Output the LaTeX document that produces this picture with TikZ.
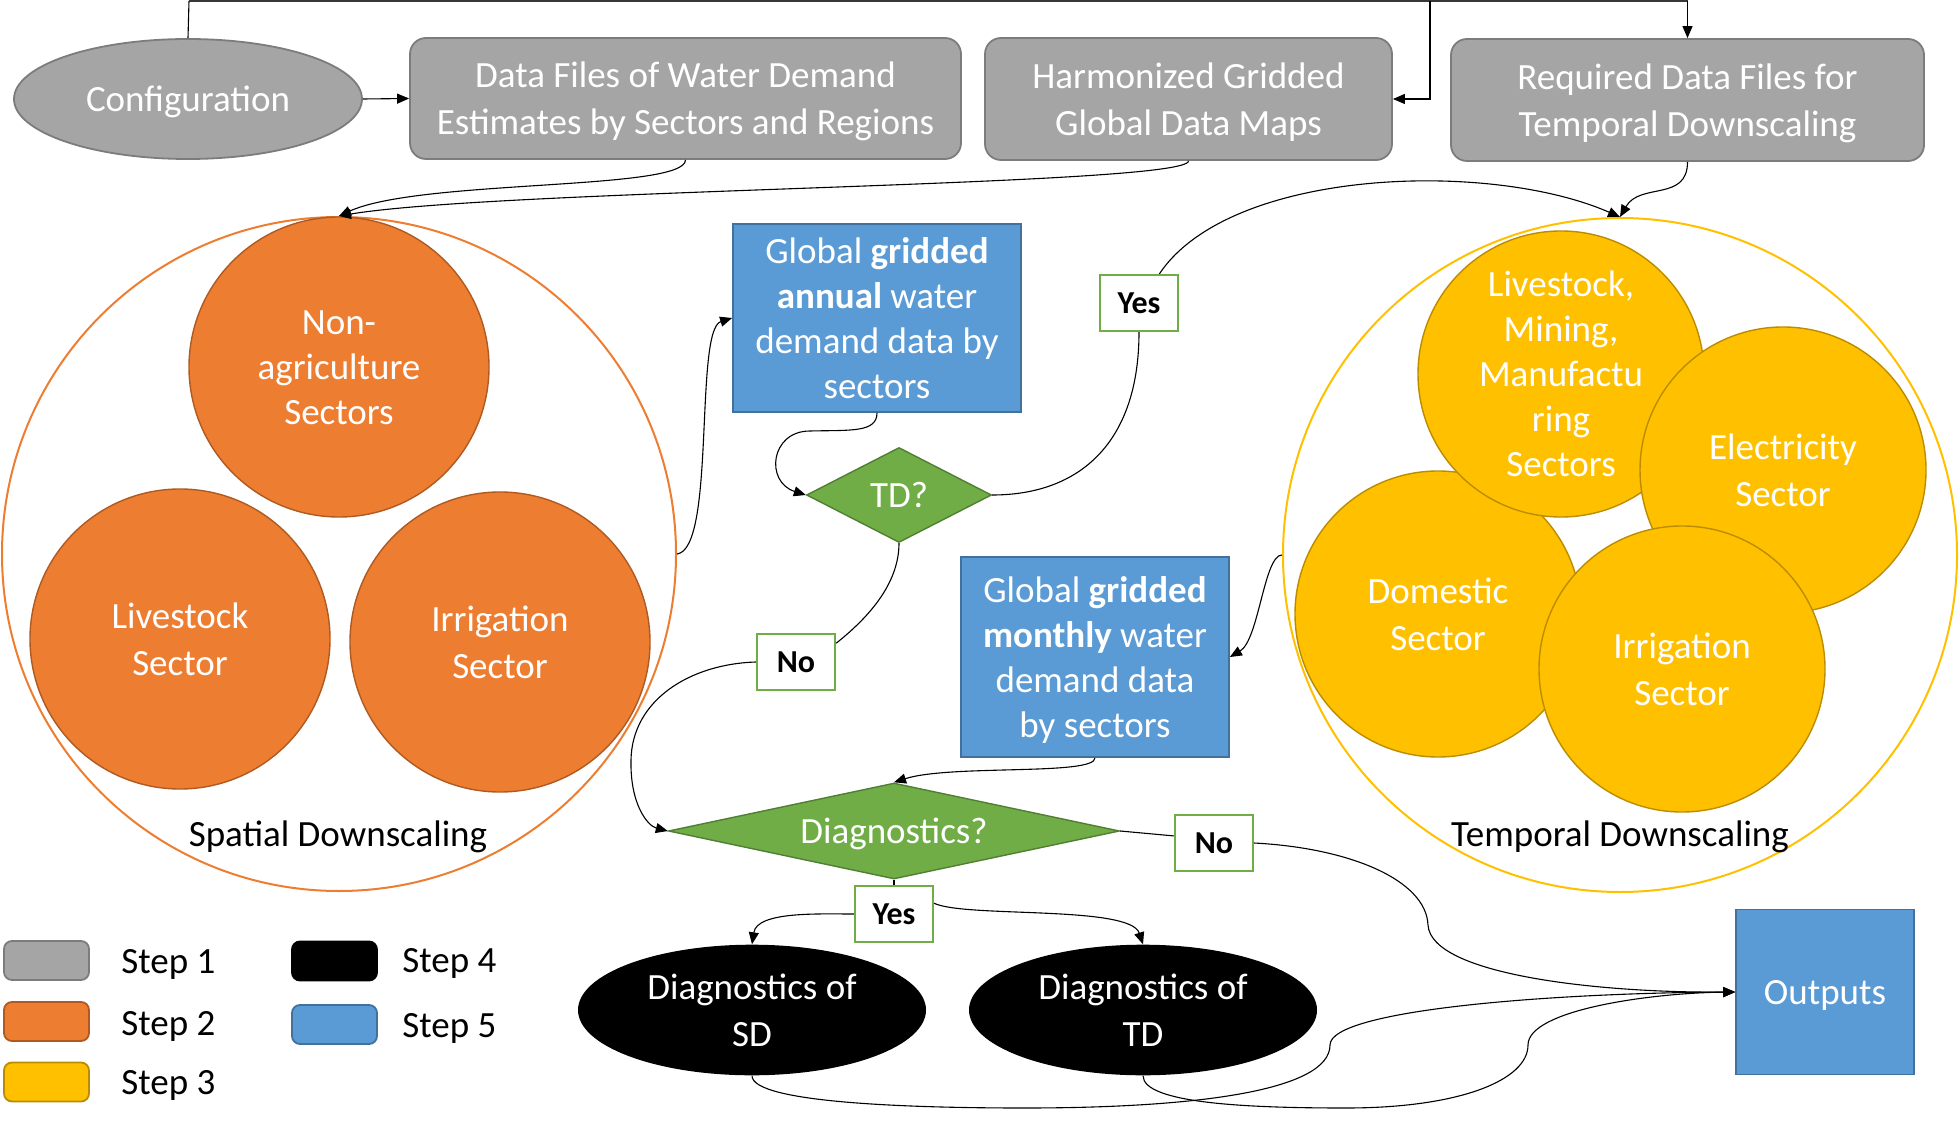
\documentclass[tikz,border=0pt]{standalone}
\usepackage{fontspec}
\setmainfont{Carlito}
\usetikzlibrary{shapes.geometric,arrows.meta}
\definecolor{gfill}{HTML}{A5A5A5}
\definecolor{gline}{HTML}{7C7C7C}
\definecolor{ofill}{HTML}{ED7D31}
\definecolor{oline}{HTML}{AE5A21}
\definecolor{yfill}{HTML}{FFC000}
\definecolor{yline}{HTML}{BC8C00}
\definecolor{bfill}{HTML}{5B9BD5}
\definecolor{bline}{HTML}{41719C}
\definecolor{grfill}{HTML}{70AD47}
\definecolor{grline}{HTML}{507E32}
\newcommand\cs{\rule[-0.269em]{0pt}{1.221em}}
\begin{document}
\begin{tikzpicture}[x=0.5pt,y=-0.5pt,
  every node/.style={inner sep=0pt, align=center, font=\fontsize{18.5}{22.5}\selectfont},
  gcol/.style={fill=gfill, draw=gline, line width=0.9pt, text=white},
  gbox/.style={gcol, rectangle, rounded corners=8pt},
  ocirc/.style={circle, fill=ofill, draw=oline, line width=0.7pt, minimum size=150pt, text=white},
  ycirc/.style={circle, fill=yfill, draw=yline, line width=0.7pt, minimum size=143pt, text=white},
  bbox/.style={rectangle, fill=bfill, draw=bline, line width=0.9pt, text=white},
  dia/.style={diamond, fill=grfill, draw=grline, line width=0.7pt, text=white},
  lab/.style={rectangle, fill=white, draw=grfill, line width=1.1pt, minimum width=39pt, minimum height=28pt, font=\fontsize{16}{19}\selectfont\bfseries},
  blk/.style={ellipse, fill=black, text=white, minimum width=174pt, minimum height=62pt},
  leg/.style={rectangle, rounded corners=4pt, line width=0.9pt, minimum width=42.5pt, minimum height=19.5pt},
  ring/.style={circle, line width=1pt, minimum size=337pt},
  conn/.style={line width=0.55pt, draw=black},
  arr/.style={conn, -{Triangle[length=6pt,width=5pt]}},
  topline/.style={line width=1.4pt, draw=black!78}]
\useasboundingbox (0,0) rectangle (1959,1128);

% outer groups
\node[ring, draw=ofill] (sdout) at (339,554) {};
\node[ring, draw=yfill] (tdout) at (1620,555) {};

% spatial downscaling
\node[ocirc] (nonag) at (339,367) {\cs Non-\\agriculture\\Sectors\cs};
\node[ocirc] (lvs) at (180,639) {\cs Livestock\\Sector\cs};
\node[ocirc] (irrs) at (500,642) {\cs Irrigation\\Sector\cs};
\node (sdlabel) at (338,834) {\cs Spatial Downscaling\cs};

% temporal downscaling
\node[ycirc] (dom) at (1438,614) {\cs Domestic\\Sector\cs};
\node[ycirc] (lmm) at (1561,374) {\cs Livestock,\\Mining,\\Manufactu\\ring\\Sectors\cs};
\node[ycirc] (elec) at (1783,470) {\cs Electricity\\Sector\cs};
\node[ycirc] (irrt) at (1682,669) {\cs Irrigation\\Sector\cs};
\node (tdlabel) at (1620,834) {\cs Temporal Downscaling\cs};

% top row
\node[gcol, ellipse, minimum width=174pt, minimum height=60pt] (conf) at (188,99) {\cs Configuration\cs};
\node[gbox, minimum width=275.5pt, minimum height=60.5pt] (box1) at (685.5,98.5) {\cs Data Files of Water Demand\\Estimates by Sectors and Regions\cs};
\node[gbox, minimum width=203.5pt, minimum height=61pt] (box2) at (1188.5,99) {\cs Harmonized Gridded\\Global Data Maps\cs};
\node[gbox, minimum width=236.5pt, minimum height=61pt] (box3) at (1687.5,100) {\cs Required Data Files for\\Temporal Downscaling\cs};

% middle
\node[bbox, minimum width=144pt, minimum height=94pt] (blueA) at (877,318) {\cs Global \textbf{gridded}\\\textbf{annual} water\\demand data by\\sectors\cs};
\node[bbox, minimum width=134pt, minimum height=100pt] (blueM) at (1095,657) {\cs Global \textbf{gridded}\\\textbf{monthly} water\\demand data\\by sectors\cs};
\node[bbox, minimum width=89pt, minimum height=82.5pt] (outp) at (1825,992) {\cs Outputs\cs};
\node[dia, minimum width=92.5pt, minimum height=47.5pt, shape aspect=1.95] (tdq) at (899,495) {\cs TD?\cs};
\node[dia, minimum width=225.5pt, minimum height=48pt, shape aspect=4.7] (diagq) at (894,831) {\cs Diagnostics?\cs};

\node[lab] (yes1) at (1139,303) {\cs Yes\cs};
\node[lab] (no1) at (796,662) {\cs No\cs};
\node[lab] (no2) at (1214,843) {\cs No\cs};
\node[lab] (yes2) at (894,914) {\cs Yes\cs};

\node[blk] (dsd) at (752,1010) {\cs Diagnostics of\\SD\cs};
\node[blk] (dtd) at (1143,1010) {\cs Diagnostics of\\TD\cs};

% legend
\node[leg, fill=gfill, draw=gline] (l1) at (46.5,960.5) {};
\node[leg, fill=ofill, draw=oline] (l2) at (46.5,1021.5) {};
\node[leg, fill=yfill, draw=yline] (l3) at (46.5,1082) {};
\node[leg, fill=black, draw=black] (l4) at (334.5,961) {};
\node[leg, fill=bfill, draw=bline] (l5) at (334.5,1024.5) {};
\node[anchor=west] (t1) at (121,961) {\cs Step 1\cs};
\node[anchor=west] (t2) at (121,1023) {\cs Step 2\cs};
\node[anchor=west] (t3) at (121,1082) {\cs Step 3\cs};
\node[anchor=west] (t4) at (402,960) {\cs Step 4\cs};
\node[anchor=west] (t5) at (402,1025) {\cs Step 5\cs};

% connectors
\coordinate (topL) at (189,1);
\coordinate (topM) at (1430,1);
\coordinate (topR) at (box3.north |- topL);
\draw[conn] (conf.north) -- (topL);
\draw[topline] (topL) -- (topR);
\draw[arr] (topR) -- (box3.north);
\draw[arr] (topM) |- (box2.east);
\draw[arr] (conf.east) -- (box1.west);

\draw[arr] (box1.south) .. controls +(0,31) and +(81,-37) .. (sdout.north);
\draw[arr] (box2.south) .. controls +(0,25) and +(161,-27) .. (sdout.north);
\draw[arr] (box3.south) .. controls +(0,40) and +(20,-35) .. (tdout.north);
\draw[arr] (yes1.55) .. controls (1230,168) and (1490,160) .. (tdout.north);

\draw[arr] (sdout.east) .. controls +(39,-5) and +(-38,12) .. (blueA.west);
\draw[arr] (blueA.south) .. controls +(0,20) and (850,430) .. (810,431) .. controls (770,431) and (765,482) .. (tdq.west);
\draw[conn] (tdq.east) .. controls +(88,0) and +(0,110) .. (yes1.south);
\draw[conn] (tdq.south) .. controls +(0,45) and +(25,-20) .. (no1.25);
\draw[arr] (no1.west) .. controls (690,664) and (632,700) .. (631,760) .. controls (630,805) and (648,826) .. (diagq.west);

\draw[arr] (tdout.west) .. controls +(-18,0) and +(29,-17) .. (blueM.east);
\draw[arr] (blueM.south) .. controls +(0,18) and +(56,-18) .. (diagq.north);

\draw[conn] (diagq.east) -- (no2.170);
\draw[arr] (no2.east) .. controls (1350,848) and (1426,880) .. (1428,925) .. controls (1431,975) and (1600,993) .. (outp.west);
\draw[conn] (diagq.south) -- (yes2.north);
\draw[arr] (yes2.west) .. controls +(-36,0) and +(5,-33) .. (dsd.north);
\draw[arr] (yes2.15) .. controls (965,918) and (1130,905) .. (dtd.north);

\draw[arr] (dsd.south) .. controls +(0,28) and (920,1108) .. (1024,1108) .. controls (1200,1108) and (1330,1090) .. (1330,1045) .. controls (1330,1010) and (1550,993) .. (outp.west);
\draw[arr] (dtd.south) .. controls +(0,28) and (1250,1108) .. (1346,1108) .. controls (1460,1108) and (1528,1080) .. (1528,1045) .. controls (1528,1010) and (1650,993) .. (outp.west);
\end{tikzpicture}
\end{document}
